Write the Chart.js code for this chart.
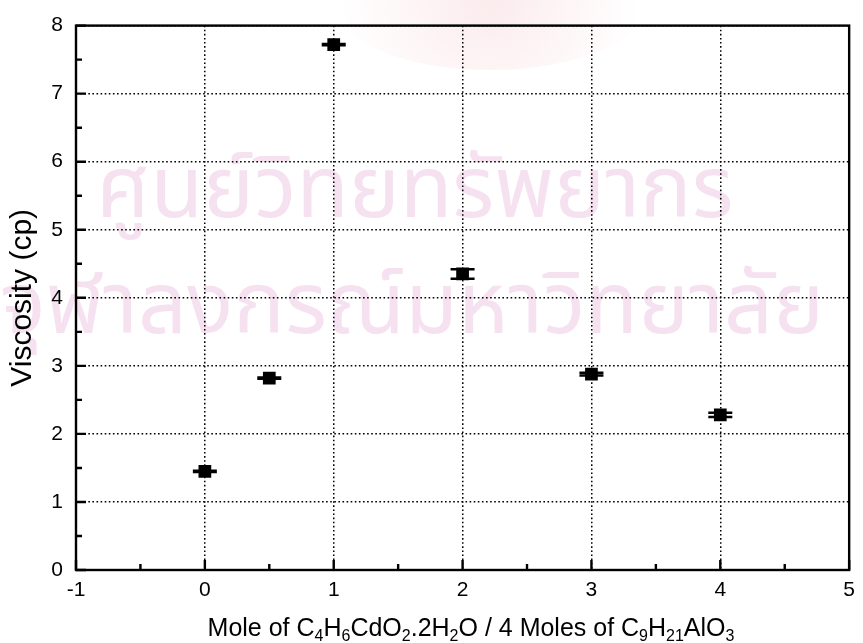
<!DOCTYPE html>
<html>
<head>
<meta charset="utf-8">
<title>Viscosity</title>
<script src="https://cdn.jsdelivr.net/npm/chart.js@4/dist/chart.umd.min.js"></script>
<style>
    html, body { margin: 0; padding: 0; background: #fff; }
    #wrap { width: 863px; height: 643px; }
</style>
</head>
<body>
<div id="wrap"><canvas id="viscosityChart" width="863" height="643"></canvas></div>
<script>
// Measured data
const moleRatio = [0, 0.5, 1, 2, 3, 4];
const viscosity = [1.45, 2.82, 7.72, 4.35, 2.88, 2.28];
const viscosityErr = [0.01, 0.01, 0.01, 0.07, 0.02, 0.03];

const xTickValues = [-1, 0, 1, 2, 3, 4, 5];
const yTickValues = [0, 1, 2, 3, 4, 5, 6, 7, 8];

const yTitle = 'Viscosity (cp)';
const xTitle = 'Mole of C4H6CdO2.2H2O / 4 Moles of C9H21AlO3';
const stampLines = ['ศูนย์วิทยทรัพยากร', 'จุฬาลงกรณ์มหาวิทยาลัย'];

const FONT = '"Liberation Sans", Arial, Helvetica, sans-serif';

// faint stamp behind the plot
const stampPlugin = {
    id: 'stamp',
    beforeDraw(chart) {
        const ctx = chart.ctx;
        ctx.save();
        // very light halo of the emblem at the top
        const g = ctx.createRadialGradient(490, 0, 10, 490, 0, 150);
        g.addColorStop(0, 'rgba(240, 170, 180, 0.22)');
        g.addColorStop(1, 'rgba(240, 170, 180, 0)');
        ctx.fillStyle = g;
        ctx.beginPath();
        ctx.ellipse(490, 0, 160, 70, 0, 0, Math.PI * 2);
        ctx.fill();

        ctx.fillStyle = 'rgba(226, 170, 210, 0.35)';
        ctx.textAlign = 'center';
        ctx.textBaseline = 'alphabetic';
        ctx.font = '86px "Noto Sans Thai", "Loma", "Garuda", "Norasi", sans-serif';
        ctx.fillText(stampLines[0], 415, 217);
        ctx.fillText(stampLines[1], 412, 333);
        ctx.restore();
    }
};

// frame, inward tick marks, error bars and the x title with subscripts
const framePlugin = {
    id: 'frame',
    afterDatasetsDraw(chart) {
        const ctx = chart.ctx;
        const area = chart.chartArea;
        const xs = chart.scales.x;
        const ys = chart.scales.y;

        ctx.save();
        ctx.strokeStyle = '#000';
        ctx.lineWidth = 2.4;
        ctx.strokeRect(area.left, area.top, area.right - area.left, area.bottom - area.top);

        // major and minor ticks, left and bottom only
        ctx.beginPath();
        for (let v = -1; v <= 5; v += 0.5) {
            const px = xs.getPixelForValue(v);
            const len = Number.isInteger(v) ? 10 : 6;
            ctx.moveTo(px, area.bottom);
            ctx.lineTo(px, area.bottom - len);
        }
        for (let v = 0; v <= 8; v += 0.5) {
            const py = ys.getPixelForValue(v);
            const len = Number.isInteger(v) ? 10 : 6;
            ctx.moveTo(area.left, py);
            ctx.lineTo(area.left + len, py);
        }
        ctx.stroke();

        // error bars with caps
        ctx.lineWidth = 2.5;
        ctx.beginPath();
        moleRatio.forEach((x, i) => {
            const px = xs.getPixelForValue(x);
            const top = ys.getPixelForValue(viscosity[i] + viscosityErr[i]);
            const bot = ys.getPixelForValue(viscosity[i] - viscosityErr[i]);
            ctx.moveTo(px, top);
            ctx.lineTo(px, bot);
            ctx.moveTo(px - 12, top);
            ctx.lineTo(px + 12, top);
            ctx.moveTo(px - 12, bot);
            ctx.lineTo(px + 12, bot);
        });
        ctx.stroke();

        drawFormula(ctx, xTitle, 471, 636);
        ctx.restore();
    }
};

// split a formula so digits right after a letter become subscripts
function formulaParts(text) {
    const parts = [];
    for (let i = 0; i < text.length; i++) {
        const ch = text[i];
        const prev = i > 0 ? text[i - 1] : '';
        const sub = /[0-9]/.test(ch) && (/[A-Za-z]/.test(prev) || (parts.length && parts[parts.length - 1].sub && /[0-9]/.test(prev)));
        if (parts.length && parts[parts.length - 1].sub === sub) {
            parts[parts.length - 1].t += ch;
        } else {
            parts.push({ t: ch, sub: sub });
        }
    }
    return parts;
}

function drawFormula(ctx, text, cx, baseline) {
    const parts = formulaParts(text);
    const big = '25px ' + FONT;
    const small = '16px ' + FONT;
    let total = 0;
    parts.forEach(p => {
        ctx.font = p.sub ? small : big;
        p.w = ctx.measureText(p.t).width;
        total += p.w;
    });
    let x = cx - total / 2;
    ctx.fillStyle = '#000';
    ctx.textAlign = 'left';
    ctx.textBaseline = 'alphabetic';
    parts.forEach(p => {
        ctx.font = p.sub ? small : big;
        ctx.fillText(p.t, x, p.sub ? baseline + 5 : baseline);
        x += p.w;
    });
}

const ctx = document.getElementById('viscosityChart').getContext('2d');
new Chart(ctx, {
    type: 'scatter',
    data: {
        datasets: [{
            data: moleRatio.map((x, i) => ({ x: x, y: viscosity[i] })),
            pointStyle: 'rect',
            pointRadius: 9,
            pointBorderWidth: 0,
            backgroundColor: '#000',
            borderColor: '#000'
        }]
    },
    options: {
        responsive: false,
        animation: false,
        layout: { padding: { top: 20, right: 10, left: 0, bottom: 0 } },
        plugins: {
            legend: { display: false },
            tooltip: { enabled: false }
        },
        scales: {
            x: {
                type: 'linear',
                min: -1,
                max: 5,
                afterBuildTicks: axis => { axis.ticks = xTickValues.map(v => ({ value: v })); },
                afterFit: axis => { axis.height = 73; },
                ticks: {
                    color: '#000',
                    font: { family: FONT, size: 21 },
                    padding: 8,
                    maxRotation: 0
                },
                grid: { color: '#000', lineWidth: 1.5, drawTicks: false },
                border: { display: false, dash: [1.6, 2.5] }
            },
            y: {
                type: 'linear',
                min: 0,
                max: 8,
                afterBuildTicks: axis => { axis.ticks = yTickValues.map(v => ({ value: v })); },
                afterFit: axis => { axis.width = 76; },
                ticks: {
                    color: '#000',
                    font: { family: FONT, size: 21 },
                    padding: 13
                },
                title: {
                    display: true,
                    text: yTitle,
                    color: '#000',
                    font: { family: FONT, size: 30 },
                    padding: { top: 5, bottom: 0 }
                },
                grid: { color: '#000', lineWidth: 1.5, drawTicks: false },
                border: { display: false, dash: [1.6, 2.5] }
            }
        }
    },
    plugins: [stampPlugin, framePlugin]
});
</script>
</body>
</html>
